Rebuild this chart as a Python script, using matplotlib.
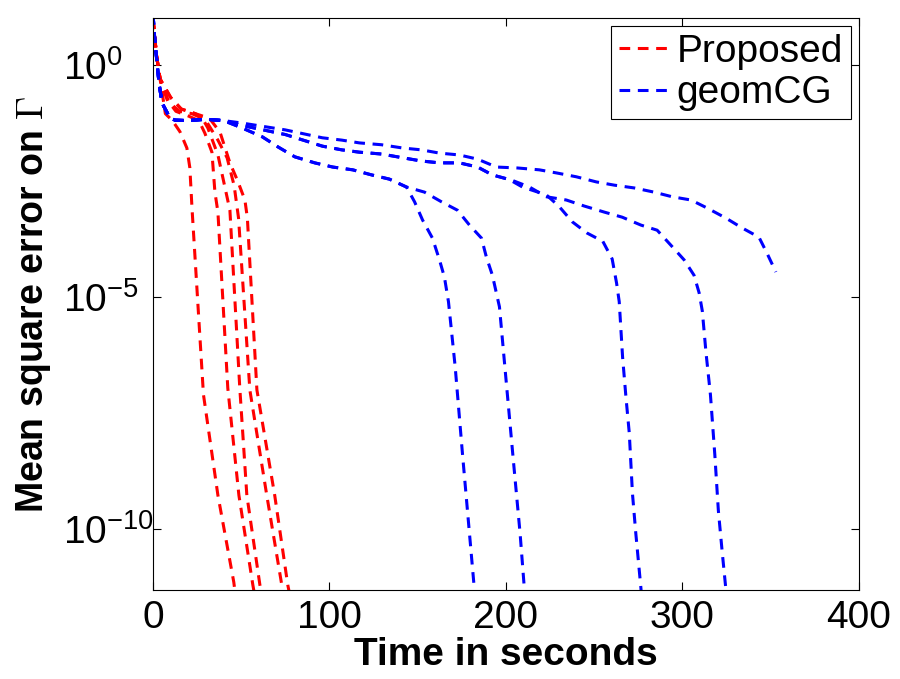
import numpy as np
import matplotlib
matplotlib.use('Agg')
import matplotlib.pyplot as plt

plt.rcParams['font.family'] = ['Liberation Sans', 'DejaVu Sans']
plt.rcParams['mathtext.default'] = 'regular'
plt.rcParams['mathtext.fontset'] = 'cm'

# time (s) and log10 of the mean square error
# Proposed (5 runs)
prop1_t = [0, 2, 4, 7, 11, 15.3, 19.2, 20.9, 22.1, 28.6, 36.8, 45.8, 47]
prop1_log = [1.0, 0.2, -0.3, -1.05, -1.2, -1.44, -1.79, -2.22, -3.08, -7.1, -9.27, -11.14, -11.5]
prop2_t = [0, 2, 4, 8, 13, 20, 26, 29.4, 33.4, 35.1, 36.8, 42.4, 48.7, 56.6, 58]
prop2_log = [1.0, 0.2, -0.3, -0.75, -1.0, -1.1, -1.2, -1.47, -1.88, -2.74, -3.17, -6.96, -9.27, -11.2, -11.5]
prop3_t = [0, 2, 4, 9, 15, 22, 28, 31.1, 36.8, 43.6, 49.2, 53.2, 60.6, 62]
prop3_log = [1.0, 0.2, -0.3, -0.8, -1.0, -1.05, -1.15, -1.36, -1.94, -3.13, -6.96, -9.27, -11.2, -11.5]
prop4_t = [0, 2, 4, 10, 16, 24, 30, 36.8, 42, 46, 48.5, 54.9, 64.5, 73, 74.5]
prop4_log = [1.0, 0.2, -0.3, -0.7, -0.95, -1.05, -1.2, -1.62, -2.0, -2.6, -3.3, -7.0, -9.27, -11.2, -11.5]
prop5_t = [0, 2, 4, 10, 16, 24, 32, 38, 43.6, 48, 52.1, 53.5, 58.9, 69, 76.4, 78]
prop5_log = [1.0, 0.2, -0.3, -0.7, -0.95, -1.05, -1.15, -1.45, -2.11, -2.5, -2.91, -3.3, -7.0, -9.27, -11.2, -11.5]

# geomCG (5 runs)
geom1_t = [0, 1.1, 2.3, 3.4, 5.1, 9.6, 12.5, 20, 30, 40, 50, 62, 71, 80.4, 91.7, 101.9, 113.2, 124, 134, 143.7,
           148.3, 152.8, 158.4, 162.4, 165.2, 167.5, 171.3, 175.4, 179.4, 182.2, 183]
geom1_log = [1.1, 0.5, 0.04, -0.39, -0.82, -1.14, -1.19, -1.2, -1.17, -1.2, -1.35, -1.55, -1.77, -1.98, -2.11, -2.2,
             -2.26, -2.37, -2.46, -2.63, -2.95, -3.34, -3.73, -4.2, -4.57, -5.1, -6.5, -8.36, -10.09, -11.3, -11.6]
geom2_t = [0, 1.1, 2.3, 3.4, 5.1, 9.6, 12.5, 20, 30, 40, 50, 62, 71, 80.4, 91.7, 101.9, 113.2, 124, 134, 143.7,
           153.9, 163.6, 172.6, 179.4, 186.2, 189, 192.4, 196.4, 199.8, 203.9, 208.1, 210.5, 211.2]
geom2_log = [1.1, 0.5, 0.04, -0.39, -0.82, -1.14, -1.19, -1.2, -1.17, -1.2, -1.35, -1.55, -1.77, -1.98, -2.11, -2.2,
             -2.26, -2.37, -2.46, -2.63, -2.74, -2.95, -3.13, -3.45, -3.73, -4.14, -4.53, -5.21, -6.64, -8.36,
             -10.09, -11.27, -11.6]
geom3_t = [0, 1.1, 2.3, 3.4, 5.1, 9.6, 12.5, 20, 30, 40, 50, 75, 96, 107, 117, 129.6, 141.5, 152.2, 162.4, 173.7,
           184, 192.4, 202, 209.4, 223, 230, 237.7, 246, 255, 260.3, 262.8, 264.3, 266.2, 268.1, 270, 271.8,
           273.7, 276.6, 277.2]
geom3_log = [1.1, 0.5, 0.04, -0.39, -0.82, -1.14, -1.19, -1.2, -1.17, -1.2, -1.3, -1.5, -1.75, -1.83, -1.88, -1.92,
             -2.0, -2.07, -2.11, -2.11, -2.2, -2.37, -2.47, -2.63, -2.8, -3.04, -3.38, -3.62, -3.8, -4.18, -4.7,
             -5.1, -6.29, -7.15, -7.93, -9.23, -10.09, -11.27, -11.6]
geom4_t = [0, 1.1, 2.3, 3.4, 5.1, 9.6, 12.5, 20, 30, 40, 50, 75, 96, 107, 117, 129.6, 141.5, 152.2, 162.4, 173.7,
           184, 192.4, 203.2, 213.4, 223, 234.3, 244.5, 255.8, 266, 276.6, 285.8, 293.5, 301.1, 306.7, 309.6,
           311.4, 313.5, 316, 318.5, 320.5, 322.7, 324.7, 325.4]
geom4_log = [1.1, 0.5, 0.04, -0.39, -0.82, -1.14, -1.19, -1.2, -1.17, -1.2, -1.3, -1.5, -1.75, -1.83, -1.88, -1.92,
             -2.0, -2.07, -2.11, -2.11, -2.2, -2.37, -2.48, -2.63, -2.84, -2.91, -3.04, -3.17, -3.28, -3.45, -3.56,
             -3.88, -4.2, -4.53, -4.91, -5.3, -6.2, -7.1, -8.4, -9.6, -10.5, -11.27, -11.6]
geom5_t = [0, 1.1, 2.3, 3.4, 5.1, 9.6, 12.5, 20, 30, 40, 50, 75, 96, 107, 117, 129.6, 141.5, 152.2, 162.4, 173.7,
           184, 194.7, 206.6, 219, 229.2, 240, 251.3, 261.5, 272.8, 284, 294.3, 305, 314, 324.8, 333.9, 343.5,
           348, 353.1]
geom5_log = [1.1, 0.5, 0.04, -0.39, -0.82, -1.14, -1.19, -1.2, -1.17, -1.2, -1.25, -1.4, -1.57, -1.62, -1.68, -1.72,
             -1.79, -1.83, -1.9, -1.94, -2.03, -2.2, -2.22, -2.26, -2.33, -2.41, -2.52, -2.59, -2.65, -2.74, -2.84,
             -2.91, -3.08, -3.3, -3.51, -3.71, -4.05, -4.46]

prop_runs = [(prop1_t, prop1_log), (prop2_t, prop2_log), (prop3_t, prop3_log),
             (prop4_t, prop4_log), (prop5_t, prop5_log)]
geom_runs = [(geom1_t, geom1_log), (geom2_t, geom2_log), (geom3_t, geom3_log),
             (geom4_t, geom4_log), (geom5_t, geom5_log)]

fig = plt.figure(figsize=(9, 6.79), dpi=100)
ax = fig.add_axes([0.17, 0.131, 0.784, 0.8425])

lw = 2.2
dash = (3.5, 2.5)
for i, (t, lg) in enumerate(prop_runs):
    ax.plot(t, 10 ** np.array(lg), color='red', lw=lw, dashes=dash,
            label='Proposed' if i == 0 else None)
for i, (t, lg) in enumerate(geom_runs):
    ax.plot(t, 10 ** np.array(lg), color='blue', lw=lw, dashes=dash,
            label='geomCG' if i == 0 else None)

ax.set_yscale('log')
ax.set_xlim(0, 400)
ax.set_ylim(10 ** -11.31, 10 ** 1.01)
ax.set_xticks([0, 100, 200, 300, 400])
ax.set_yticks([1e-10, 1e-5, 1e0])
ax.yaxis.set_minor_locator(matplotlib.ticker.NullLocator())
ax.tick_params(which='both', direction='in', top=True, right=True, length=6, width=0.8,
               labelsize=28)
ax.tick_params(axis='x', pad=7)
ax.tick_params(axis='y', pad=65)
for lab in ax.get_yticklabels():
    lab.set_horizontalalignment('left')

ax.set_xlabel('Time in seconds', fontsize=28, fontweight='bold', labelpad=1)
ax.set_ylabel(r'Mean square error on $\mathrm{\Gamma}$', fontsize=27, fontweight='bold', labelpad=7)

leg = ax.legend(loc='upper right', fontsize=28, handlelength=1.3, handletextpad=0.18,
                borderpad=0.2, labelspacing=0.15, borderaxespad=0.2, fancybox=False,
                framealpha=1)
leg.get_frame().set_edgecolor('black')
leg.get_frame().set_linewidth(0.8)

fig.savefig('out.png', dpi=100)
